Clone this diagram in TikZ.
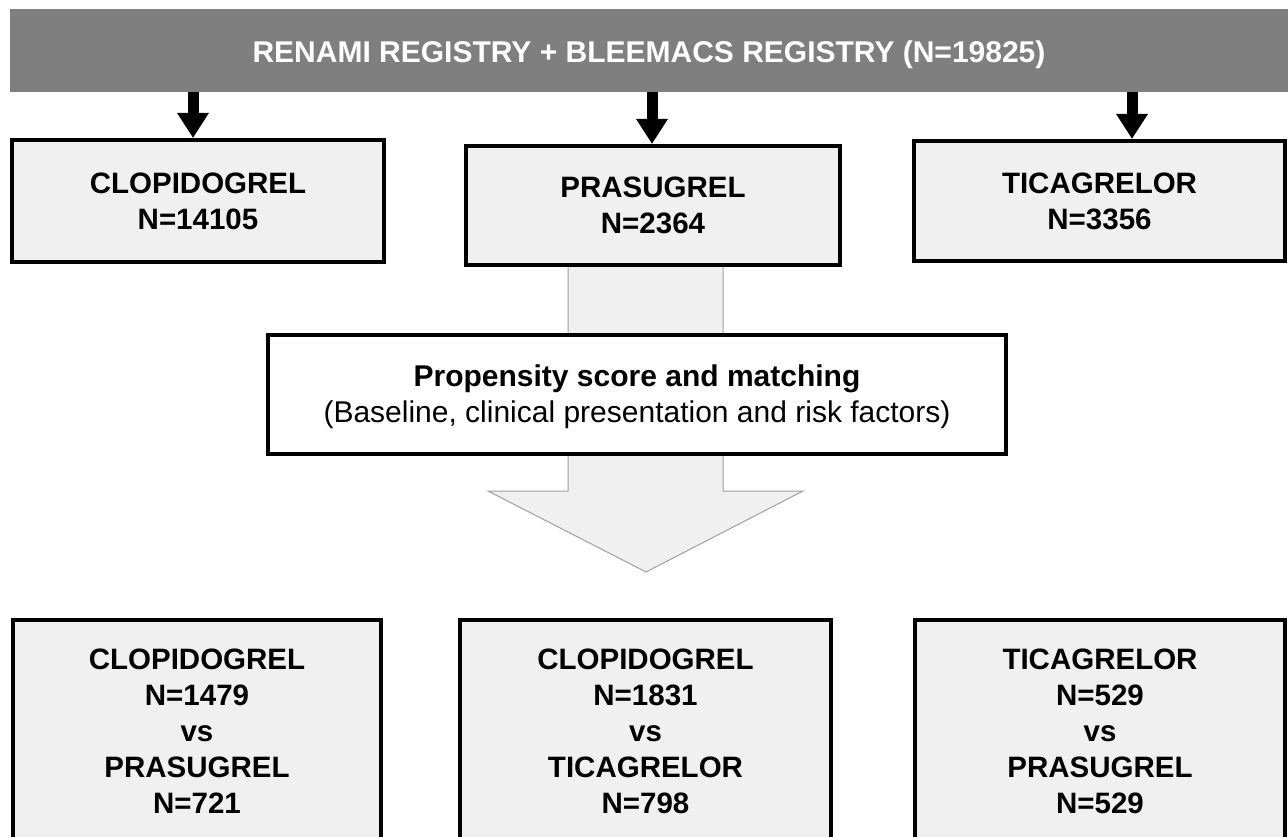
\documentclass[tikz,border=0pt]{standalone}
\usepackage{fontspec}
\setmainfont{Liberation Sans}
\usetikzlibrary{arrows.meta,calc}
\definecolor{boxfill}{HTML}{F0F0F0}
\definecolor{bannergray}{HTML}{7F7F7F}
\definecolor{arrowline}{HTML}{A0A0A0}
\tikzset{
  drugbox/.style={draw=black, line width=4pt, fill=boxfill, rectangle, inner sep=0pt,
    align=center, font=\fontsize{29.5}{36}\selectfont\bfseries},
  downarrow/.style={line width=11pt, -{Triangle[width=30pt,length=25pt]}},
}
\begin{document}
\begin{tikzpicture}[x=1pt,y=-1pt]
\useasboundingbox (0,0) rectangle (1288,837);
% banner
\node[fill=bannergray, minimum width=1278pt, minimum height=83pt, inner sep=0pt,
  text=white, font=\fontsize{30}{36}\selectfont\bfseries] (banner) at (649,50.5)
  {\raisebox{-4pt}[\height][\depth]{RENAMI REGISTRY + BLEEMACS REGISTRY (N=19825)}};
% big block arrow
\draw[fill=boxfill, draw=arrowline, line width=1pt]
  (568,267) -- (568,491) -- (488,491) -- (646,572) -- (803,491) -- (723,491) -- (723,267);
% top boxes
\node[drugbox, minimum width=372pt, minimum height=122pt] (c1) at (198,201) {CLOPIDOGREL\\N=14105};
\node[drugbox, minimum width=374pt, minimum height=119pt] (c2) at (653,205.5) {PRASUGREL\\N=2364};
\node[drugbox, minimum width=371pt, minimum height=120pt] (c3) at (1099.5,201) {TICAGRELOR\\N=3356};
% propensity box
\node[draw=black, line width=4pt, fill=white, inner sep=0pt,
  minimum width=738pt, minimum height=119pt, font=\fontsize{30}{36}\selectfont] (ps) at (637,394.5)
  {\raisebox{-3pt}[\height][\depth]{\begin{tabular}{@{}c@{}}\textbf{Propensity score and matching}\\(Baseline, clinical presentation and risk factors)\end{tabular}}};
% bottom boxes
\node[drugbox, minimum width=368pt, minimum height=222pt] (m1) at (197,731)
  {CLOPIDOGREL\\N=1479\\vs\\PRASUGREL\\N=721};
\node[drugbox, minimum width=371pt, minimum height=222pt] (m2) at (645.5,731)
  {CLOPIDOGREL\\N=1831\\vs\\TICAGRELOR\\N=798};
\node[drugbox, minimum width=370pt, minimum height=222pt] (m3) at (1100,731)
  {TICAGRELOR\\N=529\\vs\\PRASUGREL\\N=529};
% arrows from banner
\coordinate (t1) at ($(c1.north)+(-5,0)$);
\coordinate (t2) at ($(c2.north)+(-1,0)$);
\coordinate (t3) at ($(c3.north)+(32.5,0)$);
\draw[downarrow] (banner.south -| t1) -- (t1);
\draw[downarrow] (banner.south -| t2) -- (t2);
\draw[downarrow] (banner.south -| t3) -- (t3);
\end{tikzpicture}
\end{document}
